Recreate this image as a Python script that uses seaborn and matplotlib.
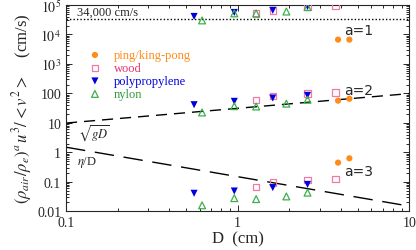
import numpy as np
import pandas as pd
import seaborn as sns
import matplotlib.pyplot as plt
from matplotlib.ticker import FixedLocator, FixedFormatter, LogLocator, NullFormatter

# Data (D in cm, values in cm/s)
ping_D = [3.84, 4.47]
ping_a1 = [6700, 6700]
ping_a2 = [57, 66]
ping_a3 = [0.45, 0.63]

wood_D = [1.28, 1.6, 2.55, 3.72]
wood_a1 = [52000, 66000, 89000, 97000]
wood_a2 = [61, 82, 101, 107]
wood_a3 = [0.068, 0.095, 0.117, 0.124]

poly_D = [0.557, 0.955, 1.6, 2.55]
poly_a1 = [41000, 56000, 66000, 89000]
poly_a2 = [41.5, 54, 70, 86]
poly_a3 = [0.041, 0.049, 0.064, 0.082]

nylon_D = [0.62, 0.955, 1.28, 1.92, 2.55]
nylon_a1 = [30000, 52000, 52000, 60000, 85000]
nylon_a2 = [22.6, 37, 36, 45, 61]
nylon_a3 = [0.016, 0.028, 0.026, 0.032, 0.043]

line_D = [0.1, 10]
g = 980.0
eta = 0.15
v_limit = 34000

sns.set_style('ticks')
plt.rcParams['font.family'] = ['Liberation Serif', 'DejaVu Serif']
plt.rcParams['mathtext.fontset'] = 'stix'

fig = plt.figure(figsize=(4.16, 2.51), dpi=100)
ax = fig.add_axes([0.1587, 0.154, 0.8255, 0.822])

materials = [
    ('ping/king-pong', ping_D, [ping_a1, ping_a2, ping_a3],
     dict(marker='o', color='#ff8c1a', s=20, edgecolor='none'), '#ff8c1a'),
    ('wood', wood_D, [wood_a1, wood_a2, wood_a3],
     dict(marker='s', facecolor='none', edgecolor='#f07aa8', s=22, linewidth=0.9), '#e8326e'),
    ('polypropylene', poly_D, [poly_a1, poly_a2, poly_a3],
     dict(marker='v', color='#0000dd', s=26, edgecolor='none'), '#0000dd'),
    ('nylon', nylon_D, [nylon_a1, nylon_a2, nylon_a3],
     dict(marker='^', facecolor='none', edgecolor='#3cb04a', s=24, linewidth=0.9), '#2e9a3a'),
]

text_colors = []
for name, D, series, kw, tc in materials:
    for i, vals in enumerate(series):
        df = pd.DataFrame({'D': D, 'v': vals})
        sns.scatterplot(data=df, x='D', y='v', ax=ax, label=name if i == 0 else None,
                        zorder=3, legend=False, **kw)
    text_colors.append(tc)

# reference lines
line_x = np.array(line_D)
sns.lineplot(x=line_x, y=np.sqrt(g * line_x), ax=ax, color='black', lw=1.0, zorder=2)
ax.lines[-1].set_dashes((8, 5))
sns.lineplot(x=line_x, y=eta / line_x, ax=ax, color='black', lw=1.0, zorder=2)
ax.lines[-1].set_dashes((14, 7))
sns.lineplot(x=line_x, y=[v_limit, v_limit], ax=ax, color='black', lw=1.0, zorder=2)
ax.lines[-1].set_dashes((1, 1.5))

ax.set_xscale('log')
ax.set_yscale('log')
ax.set_xlim(0.1, 10)
ax.set_ylim(0.01, 1e5)

yt = [0.01, 0.1, 1, 10, 100, 1e3, 1e4, 1e5]
ax.yaxis.set_major_locator(FixedLocator(yt))
ax.yaxis.set_major_formatter(FixedFormatter(['0.01', '0.1', '1', '10', '100',
                                             r'$10^3$', r'$10^4$', r'$10^5$']))
ax.yaxis.set_minor_locator(LogLocator(base=10, subs=np.arange(2, 10), numticks=20))
ax.yaxis.set_minor_formatter(NullFormatter())
ax.xaxis.set_major_locator(FixedLocator([0.1, 1, 10]))
ax.xaxis.set_major_formatter(FixedFormatter(['0.1', '1', '10']))
ax.xaxis.set_minor_locator(LogLocator(base=10, subs=np.arange(2, 10), numticks=20))
ax.xaxis.set_minor_formatter(NullFormatter())

ax.tick_params(which='both', direction='in', top=True, right=True, labelsize=10, width=0.7)
ax.tick_params(which='major', length=4)
ax.tick_params(which='minor', length=2)
for sp in ax.spines.values():
    sp.set_linewidth(0.8)

ax.set_xlabel('D  (cm)', fontsize=12, labelpad=1)
ax.set_ylabel(r'$(\rho_{air}/\rho_e)^a\, u^3/{<}v^2{>}$    (cm/s)', fontsize=12, labelpad=2)

ax.text(0.116, v_limit * 1.12, '34,000 cm/s', fontsize=9, ha='left', va='bottom')
ax.text(0.118, 4.8, r'$\sqrt{gD}$', fontsize=9, ha='left', va='center')
ax.text(0.116, 0.51, r'$\eta$/D', fontsize=9, ha='left', va='center')
for lab, yv in [('a=1', 13800), ('a=2', 135), ('a=3', 0.237)]:
    ax.text(4.17, yv, lab, fontsize=10, ha='left', va='center', family='DejaVu Sans')

leg = ax.legend(loc='upper left', bbox_to_anchor=(0.055, 0.81), frameon=False,
                fontsize=9, labelspacing=0.08, handletextpad=1.1, handlelength=0.8,
                borderaxespad=0, labelcolor=text_colors)

fig.savefig('out.png', dpi=100)
